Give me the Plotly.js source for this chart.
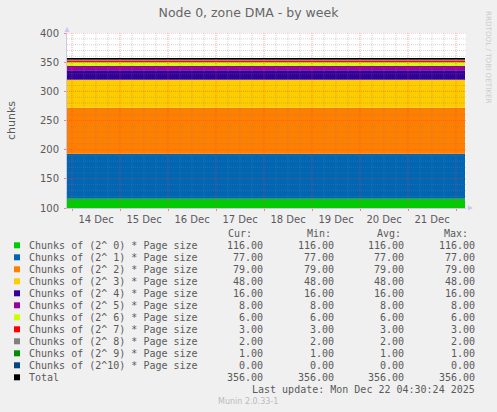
<!DOCTYPE html>
<html>
<head>
<meta charset="utf-8">
<script src="https://cdn.plot.ly/plotly-3.0.1.min.js"></script>
<style>
  html, body { margin: 0; padding: 0; background: #f0f0f0; }
  #chart { width: 497px; height: 412px; }
</style>
</head>
<body>
<div id="chart"></div>
<script>
// ---- data ----
const times = ["2025-12-13 21:30", "2025-12-22 04:30"];
const labels = [
  "Chunks of (2^ 0) * Page size", "Chunks of (2^ 1) * Page size", "Chunks of (2^ 2) * Page size",
  "Chunks of (2^ 3) * Page size", "Chunks of (2^ 4) * Page size", "Chunks of (2^ 5) * Page size",
  "Chunks of (2^ 6) * Page size", "Chunks of (2^ 7) * Page size", "Chunks of (2^ 8) * Page size",
  "Chunks of (2^ 9) * Page size", "Chunks of (2^10) * Page size",
];
const colors = ["#00cc00", "#0066b3", "#ff8000", "#ffcc00", "#330099", "#990099",
  "#ccff00", "#ff0000", "#808080", "#008f00", "#00487d"];
const curVals = [116, 77, 79, 48, 16, 8, 6, 3, 2, 1, 0];
const minVals = [116, 77, 79, 48, 16, 8, 6, 3, 2, 1, 0];
const avgVals = [116, 77, 79, 48, 16, 8, 6, 3, 2, 1, 0];
const maxVals = [116, 77, 79, 48, 16, 8, 6, 3, 2, 1, 0];
const total = { cur: 356, min: 356, avg: 356, max: 356 };
const lastUpdate = "Last update: Mon Dec 22 04:30:24 2025";

// ---- geometry: plot area in pixels ----
const W = 497, H = 412;
const M = { l: 67, r: 31, t: 33, b: 204 };
const PW = W - M.l - M.r, PH = H - M.t - M.b;
const px = (x) => (x - M.l) / PW;
const py = (y) => (H - M.b - y) / PH;

const MONO = "DejaVu Sans Mono, monospace";
const SANS = "DejaVu Sans, sans-serif";
const TXT = "#5a5a5a";

const traces = labels.map((name, i) => ({
  x: times, y: [curVals[i], curVals[i]], name,
  type: "scatter", mode: "lines", stackgroup: "one",
  line: { width: 0, color: colors[i] }, fillcolor: colors[i],
  hoverinfo: "skip",
}));
traces.push({
  x: times, y: [total.cur, total.cur], name: "Total",
  type: "scatter", mode: "lines", line: { color: "#000", width: 1.5 }, hoverinfo: "skip",
});

// ---- grid drawn on top of the areas, like rrdtool does ----
const shapes = [];
const MINOR = "rgba(128,128,128,0.32)", MAJOR = "rgba(255,60,60,0.45)";
for (let v = 110; v <= 400; v += 10) {
  shapes.push({ type: "line", xref: "paper", yref: "y", x0: 0, x1: 1, y0: v, y1: v, layer: "above",
    line: { color: v % 50 === 0 ? MAJOR : MINOR, width: 1, dash: "1px,1px" } });
}
const day0 = Date.parse("2025-12-14T00:00:00Z");
for (let k = 0; k <= 32; k++) {
  const t = new Date(day0 + k * 6 * 3600 * 1000).toISOString().slice(0, 16).replace("T", " ");
  shapes.push({ type: "line", xref: "x", yref: "paper", x0: t, x1: t, y0: 0, y1: 1, layer: "above",
    line: { color: k % 4 === 0 ? MAJOR : MINOR, width: 1, dash: "1px,1px" } });
}

// ---- rrdtool style legend table ----
const annotations = [];
const ann = (x, y, text, anchor, font) => annotations.push({
  xref: "paper", yref: "paper", x: px(x), y: py(y), text, showarrow: false,
  xanchor: anchor, yanchor: "middle", font: Object.assign({ family: MONO, size: 10, color: TXT }, font || {}),
});
const cols = [265, 336, 406, 477];
[["Cur:", 254], ["Min:", 333], ["Avg:", 403], ["Max:", 470]].forEach(([h, x]) => ann(x, 233, h, "right"));
labels.forEach((name, i) => {
  const y = 245 + 12 * i;
  shapes.push({ type: "rect", xref: "paper", yref: "paper", x0: px(14), x1: px(20), y0: py(y + 3.3), y1: py(y - 2.7),
    fillcolor: colors[i], line: { width: 0 } });
  ann(27, y, name, "left");
  [curVals[i], minVals[i], avgVals[i], maxVals[i]].forEach((v, j) => ann(cols[j], y, v.toFixed(2), "right"));
});
const ty = 245 + 12 * labels.length;
shapes.push({ type: "rect", xref: "paper", yref: "paper", x0: px(14), x1: px(20), y0: py(ty + 3.3), y1: py(ty - 2.7),
  fillcolor: "#000", line: { width: 0 } });
ann(27, ty, "Total", "left");
[total.cur, total.min, total.avg, total.max].forEach((v, j) => ann(cols[j], ty, v.toFixed(2), "right"));
ann(477, 389, lastUpdate, "right");
ann(248, 401, "Munin 2.0.33-1", "center", { family: SANS, size: 8, color: "#bbbbbb" });
annotations.push({ xref: "paper", yref: "paper", x: px(489), y: py(57), text: "RRDTOOL / TOBI OETIKER",
  showarrow: false, textangle: 90, xanchor: "center", yanchor: "middle",
  font: { family: SANS, size: 7.2, color: "#cccccc" } });
// axis arrow heads
annotations.push({ xref: "paper", yref: "paper", x: px(67), y: py(27), ax: 0, ay: 7, text: "",
  showarrow: true, arrowhead: 2, arrowsize: 1, arrowwidth: 1, arrowcolor: "#c8c8f0" });
annotations.push({ xref: "paper", yref: "paper", x: px(473), y: py(208), ax: -7, ay: 0, text: "",
  showarrow: true, arrowhead: 2, arrowsize: 1, arrowwidth: 1, arrowcolor: "#c8c8f0" });

const layout = {
  width: W, height: H, margin: M,
  paper_bgcolor: "#f0f0f0", plot_bgcolor: "#ffffff",
  showlegend: false,
  font: { family: SANS, size: 10, color: TXT },
  title: { text: "Node 0, zone DMA - by week", x: 0.5, xref: "container", xanchor: "center",
    y: 1 - 13 / H, yanchor: "middle",
    font: { family: SANS, size: 12.5, color: "#666666" } },
  xaxis: {
    type: "date", range: ["2025-12-13 21:30", "2025-12-22 05:00"],
    tick0: "2025-12-14", dtick: 86400000, tickformat: "%d %b", ticklabelmode: "period",
    showgrid: false, zeroline: false, showline: true, linecolor: "#c8c8e6",
    ticks: "outside", ticklen: 2, tickcolor: "rgba(255,80,80,0.7)",
    tickfont: { family: SANS, size: 10, color: TXT },
  },
  yaxis: {
    range: [100, 400], dtick: 50, showgrid: false, zeroline: false,
    showline: true, linecolor: "#c8c8e6",
    ticks: "outside", ticklen: 2, tickcolor: "rgba(255,80,80,0.7)", ticklabelstandoff: 3,
    tickfont: { family: SANS, size: 10, color: TXT },
    title: { text: "chunks", standoff: 22, font: { family: SANS, size: 11, color: TXT } },
  },
  shapes, annotations,
};

Plotly.newPlot("chart", traces, layout, { displayModeBar: false, staticPlot: true });
</script>
</body>
</html>
